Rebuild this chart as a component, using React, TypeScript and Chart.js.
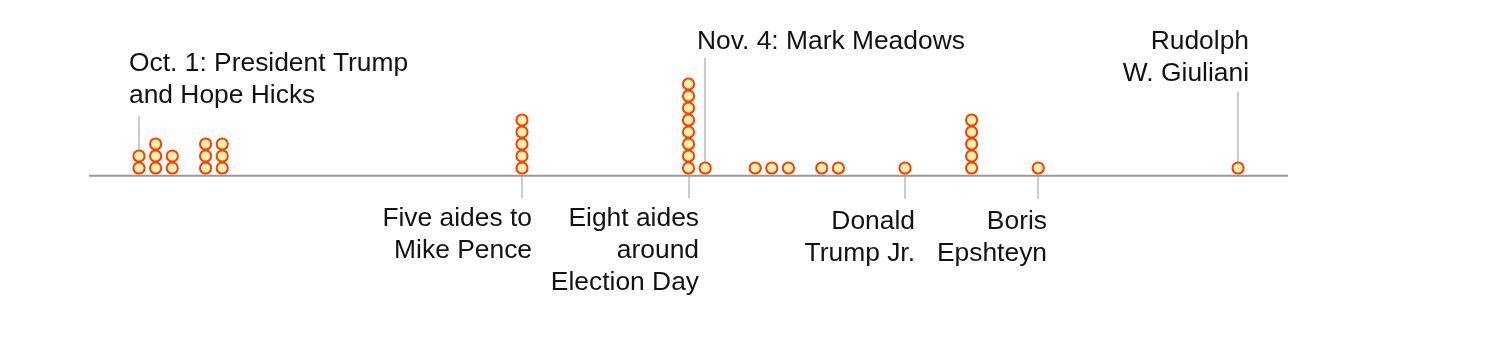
import React, { useEffect, useRef } from "react";
import { Chart, registerables } from "chart.js";

Chart.register(...registerables);

// Days counted from Oct. 1 (day 0) on which aides tested positive
const days = [0, 1, 2, 4, 5, 23, 33, 34, 37, 38, 39, 41, 42, 46, 50, 54, 66];
// Number of positive cases announced that day
const counts = [2, 3, 2, 3, 3, 5, 8, 1, 1, 1, 1, 1, 1, 1, 5, 1, 1];

// Annotation labels
const noteDays = [0, 34, 66, 23, 33, 46, 54];
const noteLines = [
  ["Oct. 1: President Trump", "and Hope Hicks"],
  ["Nov. 4: Mark Meadows"],
  ["Rudolph", "W. Giuliani"],
  ["Five aides to", "Mike Pence"],
  ["Eight aides", "around", "Election Day"],
  ["Donald", "Trump Jr."],
  ["Boris", "Epshteyn"],
];

// layout for annotations (canvas px)
const noteLayout = [
  { align: "left", dx: -10, base: 63, leaderTop: 108, leaderBottom: 160 },
  { align: "left", dx: -8, base: 41, leaderTop: 50, leaderBottom: 160 },
  { align: "right", dx: 11, base: 41, leaderTop: 84, leaderBottom: 160 },
  { align: "right", dx: 10, base: 218, leaderTop: 168, leaderBottom: 190 },
  { align: "right", dx: 10, base: 218, leaderTop: 168, leaderBottom: 190 },
  { align: "right", dx: 10, base: 221, leaderTop: 168, leaderBottom: 191 },
  { align: "right", dx: 9, base: 221, leaderTop: 168, leaderBottom: 191 },
];

const FONT = '26.4px "Liberation Sans", Arial, sans-serif';
const LINE_H = 32;
const BASELINE_VALUE = -0.64;

const annotationPlugin = {
  id: "annotations",
  beforeDatasetsDraw(chart: any) {
    const ctx = chart.ctx;
    const xs = chart.scales.x;
    const ys = chart.scales.y;
    ctx.save();
    ctx.strokeStyle = "#cccccc";
    ctx.lineWidth = 2;
    noteDays.forEach((d, i) => {
      const x = Math.round(xs.getPixelForValue(d));
      const l = noteLayout[i];
      ctx.beginPath();
      ctx.moveTo(x, l.leaderTop);
      ctx.lineTo(x, l.leaderBottom);
      ctx.stroke();
    });
    const by = ys.getPixelForValue(BASELINE_VALUE);
    ctx.strokeStyle = "#999999";
    ctx.lineWidth = 2;
    ctx.beginPath();
    ctx.moveTo(chart.chartArea.left, by);
    ctx.lineTo(chart.chartArea.right, by);
    ctx.stroke();
    ctx.restore();
  },
  afterDatasetsDraw(chart: any) {
    const ctx = chart.ctx;
    const xs = chart.scales.x;
    ctx.save();
    ctx.font = FONT;
    ctx.fillStyle = "#121212";
    ctx.textBaseline = "alphabetic";
    noteDays.forEach((d, i) => {
      const x = Math.round(xs.getPixelForValue(d));
      const l = noteLayout[i];
      ctx.textAlign = l.align;
      noteLines[i].forEach((t, j) => {
        ctx.fillText(t, x + l.dx, l.base + j * LINE_H);
      });
    });
    ctx.restore();
  },
};

export default function App() {
  const ref = useRef<HTMLCanvasElement>(null);
  useEffect(() => {
    if (!ref.current) return;
    const points: { x: number; y: number }[] = [];
    days.forEach((d, i) => {
      for (let k = 0; k < counts[i]; k++) points.push({ x: d, y: k });
    });
    const chart = new Chart(ref.current, {
      type: "scatter",
      data: {
        datasets: [
          {
            data: points,
            pointRadius: 5.6,
            pointHoverRadius: 5.6,
            borderWidth: 2,
            borderColor: "#ff3d00",
            backgroundColor: "#fbf3ad",
          },
        ],
      },
      options: {
        animation: false,
        responsive: false,
        maintainAspectRatio: false,
        layout: { padding: { left: 81, right: 190, top: 16, bottom: 166 } },
        plugins: { legend: { display: false }, tooltip: { enabled: false } },
        scales: {
          x: { type: "linear", min: -3, max: 69, display: false },
          y: { type: "linear", min: -1, max: 12, display: false },
        },
      },
      plugins: [annotationPlugin],
    });
    return () => chart.destroy();
  }, []);
  return (
    <div style={{ width: 1470, height: 338 }}>
      <canvas ref={ref} width={1470} height={338} style={{ display: "block" }} />
    </div>
  );
}
